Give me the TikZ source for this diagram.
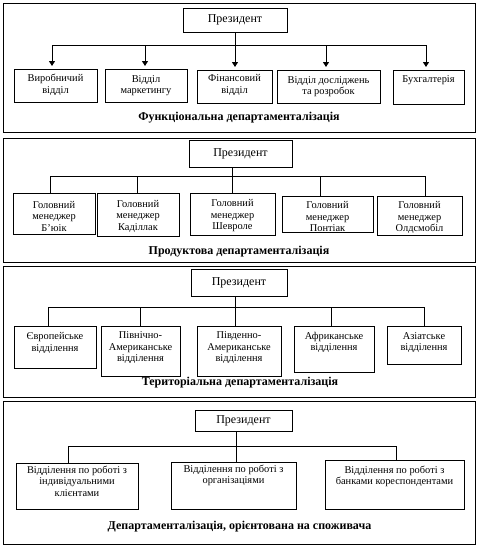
\documentclass[tikz,border=0pt]{standalone}
\usepackage{fontspec}
\setmainfont{Liberation Serif}
\usetikzlibrary{arrows.meta}
\begin{document}
\begin{tikzpicture}[x=1pt,y=-1pt, line width=1pt,
 frame/.style={draw, inner sep=0pt, minimum width=472},
 pres/.style={draw, font=\fontsize{12}{14}\selectfont, inner sep=0pt},
 box/.style={draw, inner sep=0pt},
 txt/.style={font=\fontsize{10.4}{11.5}\selectfont, align=center, inner sep=0pt},
 ttl/.style={font=\bfseries\fontsize{12}{14}\selectfont, inner sep=0pt},
 arr/.style={-{Triangle[width=6pt,length=5pt]}}]
\useasboundingbox (0,0) rectangle (478,547);

% ---------- Panel 1 ----------
\node[frame, minimum height=129] (f1) at (239,67.5) {};
\node[pres, minimum width=104, minimum height=24] (p1) at (235,20) {Президент};
\coordinate (j11) at (52,45);
\coordinate (j12) at (145,45);
\coordinate (j13) at (235,45);
\coordinate (j14) at (326,45);
\coordinate (j15) at (426,45);
\draw (j11) -- (j15);
\node[box, minimum width=83, minimum height=33] (b11) at (55.5,85.5) {};
\node[box, minimum width=82, minimum height=33] (b12) at (146,85.5) {};
\node[box, minimum width=75, minimum height=33] (b13) at (234.5,86.5) {};
\node[box, minimum width=103, minimum height=33] (b14) at (328.5,86.5) {};
\node[box, minimum width=71, minimum height=34] (b15) at (428.5,87) {};
\node[txt] (t11) at ([yshift=0.5pt]b11.center) {Виробничий\\відділ};
\node[txt] (t12) at ([yshift=0pt]b12.center) {Відділ\\маркетингу};
\node[txt] (t13) at ([yshift=1.5pt]b13.center) {Фінансовий\\відділ};
\node[txt] (t14) at ([yshift=0pt]b14.center) {Відділ досліджень\\та розробок};
\node[txt] (t15) at ([yshift=7pt]b15.center) {Бухгалтерія};
\draw[arr] (j13 |- p1.south) -- ([yshift=2.5pt]j13 |- b13.north);
\draw[arr] (j11) -- ([yshift=2.5pt]j11 |- b11.north);
\draw[arr] (j12) -- ([yshift=2.5pt]j12 |- b12.north);
\draw[arr] (j14) -- ([yshift=2.5pt]j14 |- b14.north);
\draw[arr] (j15) -- ([yshift=2.5pt]j15 |- b15.north);
\node[ttl] (ti1) at (239,118) {Функціональна департаменталізація};

% ---------- Panel 2 ----------
\node[frame, minimum height=124] (f2) at (239,200) {};
\node[pres, minimum width=103, minimum height=27] (p2) at (240.5,153.5) {Президент};
\coordinate (j21) at (50,176);
\coordinate (j22) at (137,176);
\coordinate (j23) at (232,176);
\coordinate (j24) at (320,176);
\coordinate (j25) at (425,176);
\draw (j21) -- (j25);
\node[box, minimum width=82, minimum height=41] (b21) at (54,213.5) {};
\node[box, minimum width=82, minimum height=43] (b22) at (138,214.5) {};
\node[box, minimum width=85, minimum height=42] (b23) at (232.5,214) {};
\node[box, minimum width=91, minimum height=36] (b24) at (327.5,214) {};
\node[box, minimum width=85, minimum height=39] (b25) at (419.5,215.5) {};
\node[txt] (t21) at ([yshift=-2.5pt]b21.center) {Головний\\менеджер\\Б’юік};
\node[txt] (t22) at ([yshift=-1.5pt]b22.center) {Головний\\менеджер\\Каділлак};
\node[txt] (t23) at ([yshift=-2pt]b23.center) {Головний\\менеджер\\Шевроле};
\node[txt] (t24) at ([yshift=-2.5pt]b24.center) {Головний\\менеджер\\Понтіак};
\node[txt] (t25) at ([yshift=-2pt]b25.center) {Головний\\менеджер\\Олдсмобіл};
\draw (j23 |- p2.south) -- (j23 |- b23.north);
\draw (j21) -- (j21 |- b21.north);
\draw (j22) -- (j22 |- b22.north);
\draw (j24) -- (j24 |- b24.north);
\draw (j25) -- (j25 |- b25.north);
\node[ttl] (ti2) at (239,252) {Продуктова департаменталізація};

% ---------- Panel 3 ----------
\node[frame, minimum height=131] (f3) at (239,331.5) {};
\node[pres, minimum width=96, minimum height=27] (p3) at (239,282.5) {Президент};
\coordinate (j31) at (48,307);
\coordinate (j32) at (140,307);
\coordinate (j33) at (235,307);
\coordinate (j34) at (331,307);
\coordinate (j35) at (424,307);
\draw (j31) -- (j35);
\node[box, minimum width=82, minimum height=42] (b31) at (55,347) {};
\node[box, minimum width=79, minimum height=50] (b32) at (140.5,351) {};
\node[box, minimum width=84, minimum height=50] (b33) at (239,351) {};
\node[box, minimum width=80, minimum height=46] (b34) at (334,349) {};
\node[box, minimum width=74, minimum height=38] (b35) at (424,345) {};
\node[txt] (t31) at ([yshift=4pt]b31.center) {Європейське\\відділення};
\node[txt] (t32) at ([yshift=3pt]b32.center) {Північно-\\Американське\\відділення};
\node[txt] (t33) at ([yshift=3pt]b33.center) {Південно-\\Американське\\відділення};
\node[txt] (t34) at ([yshift=6.5pt]b34.center) {Африканське\\відділення};
\node[txt] (t35) at ([yshift=2.5pt]b35.center) {Азіатське\\відділення};
\draw (j33 |- p3.south) -- (j33 |- b33.north);
\draw (j31) -- (j31 |- b31.north);
\draw (j32) -- (j32 |- b32.north);
\draw (j34) -- (j34 |- b34.north);
\draw (j35) -- (j35 |- b35.north);
\node[ttl] (ti3) at (240,383) {Територіальна департаменталізація};

% ---------- Panel 4 ----------
\node[frame, minimum height=143] (f4) at (239,472.5) {};
\node[pres, minimum width=97, minimum height=21] (p4) at (243.5,420.5) {Президент};
\coordinate (j41) at (68,446);
\coordinate (j42) at (236,446);
\coordinate (j43) at (396,446);
\draw (j41) -- (j43);
\node[box, minimum width=122, minimum height=46] (b41) at (77,486) {};
\node[box, minimum width=125, minimum height=47] (b42) at (233.5,485.5) {};
\node[box, minimum width=139, minimum height=49] (b43) at (394.5,484.5) {};
\node[txt] (t41) at ([yshift=5pt]b41.center) {Відділення по роботі з\\індивідуальними\\клієнтами};
\node[txt] (t42) at ([yshift=10pt]b42.center) {Відділення по роботі з\\організаціями};
\node[txt] (t43) at ([yshift=8pt]b43.center) {Відділення по роботі з\\банками кореспондентами};
\draw (j42 |- p4.south) -- (j42 |- b42.north);
\draw (j41) -- (j41 |- b41.north);
\draw (j43) -- (j43 |- b43.north);
\node[ttl] (ti4) at (239.5,527) {Департаменталізація, орієнтована на споживача};
\end{tikzpicture}
\end{document}
